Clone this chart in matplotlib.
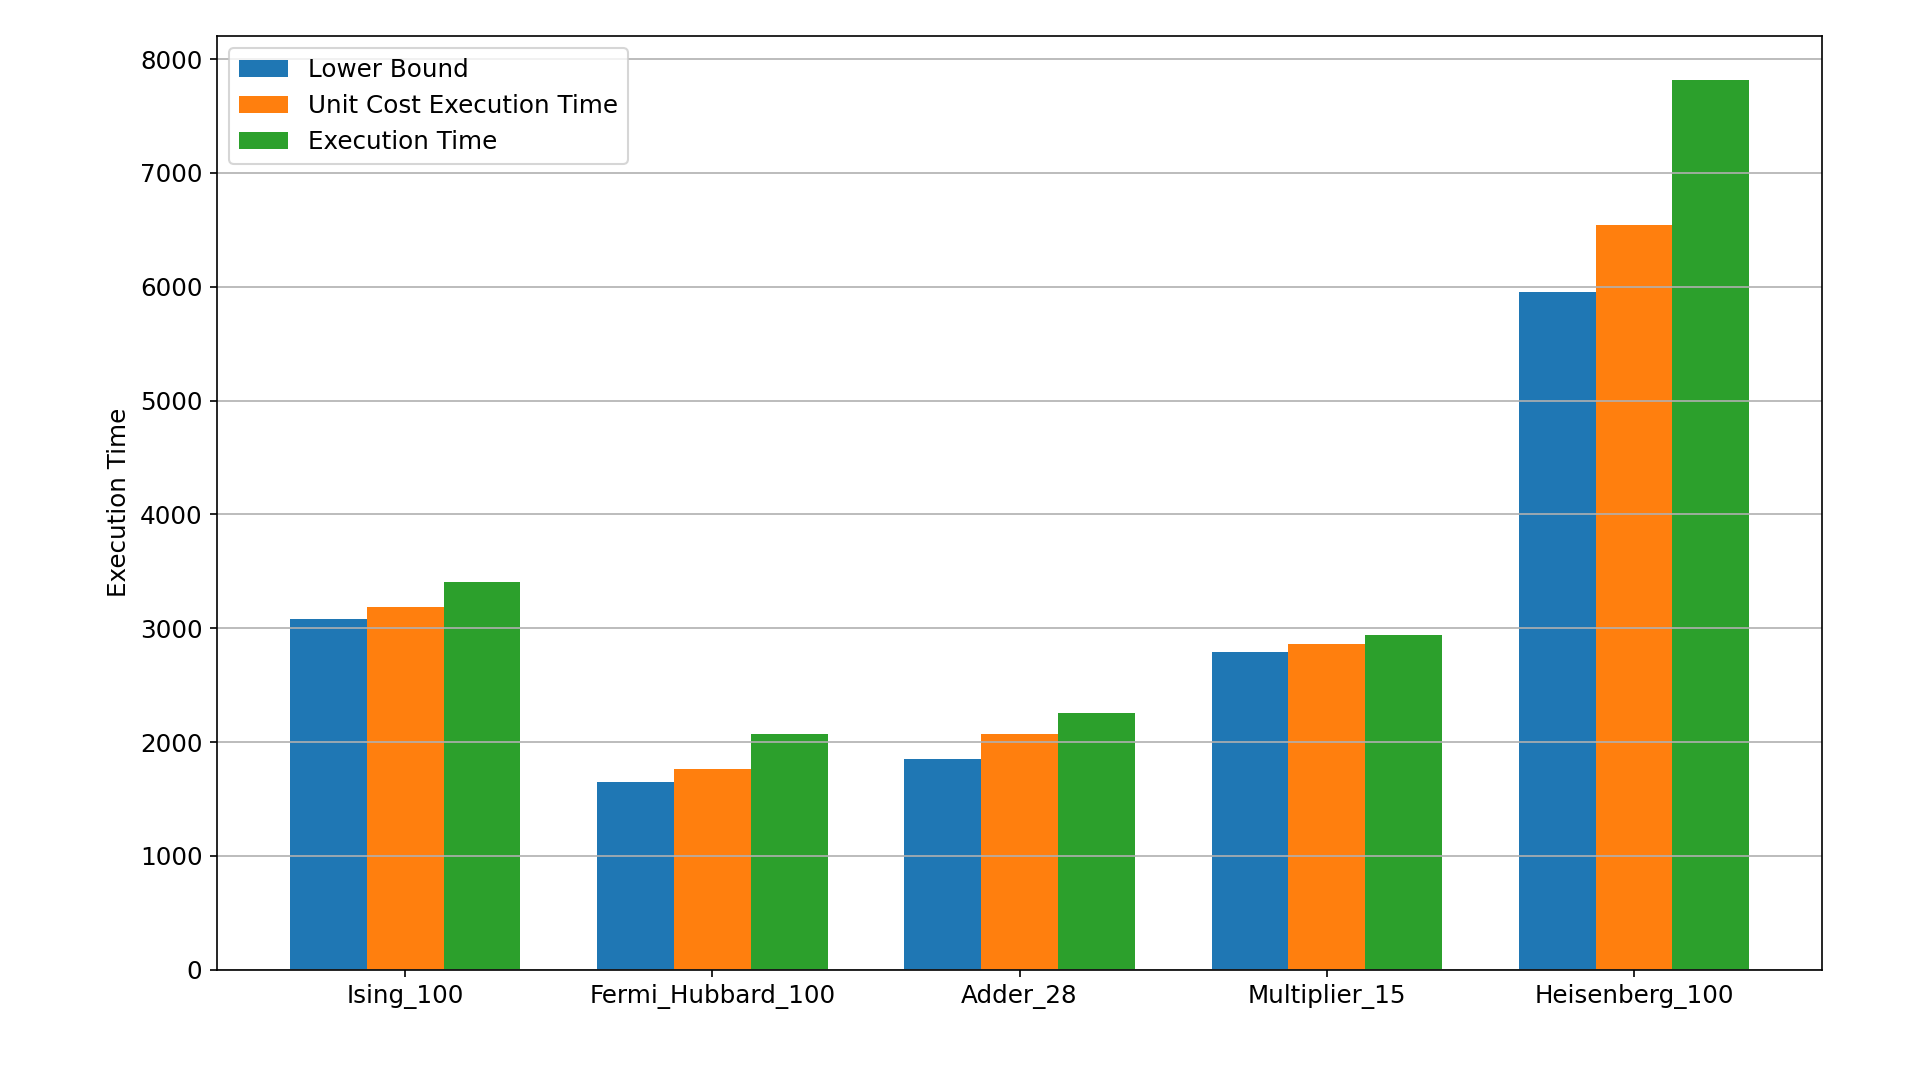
import matplotlib
matplotlib.use('Agg')
import matplotlib.pyplot as plt
import numpy as np

benchmarks = ['Ising_100', 'Fermi_Hubbard_100', 'Adder_28', 'Multiplier_15', 'Heisenberg_100']
lower_bound = [3080, 1650, 1850, 2790, 5950]
unit_cost_time = [3190, 1760, 2070, 2865, 6545]
execution_time = [3405, 2070, 2255, 2940, 7815]

plt.rcParams['font.size'] = 11.8

x = np.arange(len(benchmarks))
width = 0.25

fig, ax = plt.subplots(figsize=(12.8, 7.2), dpi=150)
fig.subplots_adjust(left=0.113, right=0.949, top=0.967, bottom=0.102)

ax.bar(x - width, lower_bound, width, label='Lower Bound')
ax.bar(x, unit_cost_time, width, label='Unit Cost Execution Time')
ax.bar(x + width, execution_time, width, label='Execution Time')

ax.set_ylabel('Execution Time')
ax.set_xticks(x)
ax.set_xticklabels(benchmarks)
ax.grid(axis='y')
ax.legend(loc='upper left')

fig.savefig('out.png')
